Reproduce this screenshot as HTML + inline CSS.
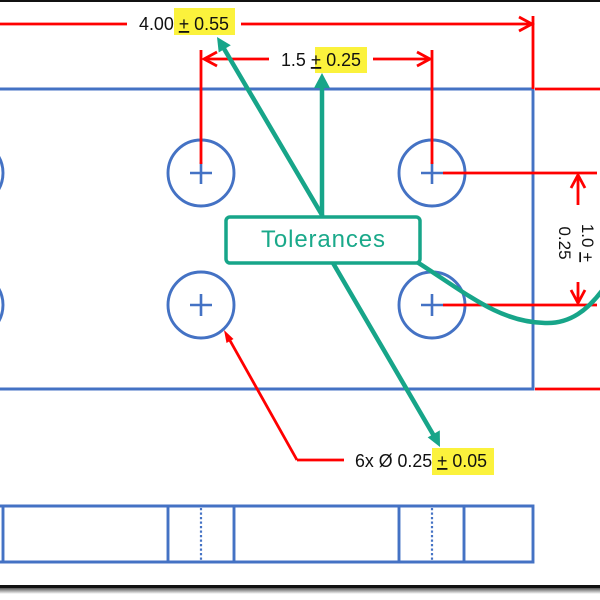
<!DOCTYPE html>
<html><head><meta charset="utf-8"><style>
html,body{margin:0;padding:0;background:#fff;}
svg{display:block;}
</style></head><body>
<svg width="600" height="600" viewBox="0 0 600 600" xmlns="http://www.w3.org/2000/svg">
<defs>
<linearGradient id="sh" x1="0" y1="0" x2="0" y2="1">
<stop offset="0" stop-color="#555"/><stop offset="1" stop-color="#fff"/>
</linearGradient>
</defs>
<rect width="600" height="600" fill="#fff"/>
<!-- frame -->
<rect x="0" y="0" width="600" height="2" fill="#111"/>
<rect x="0" y="585" width="600" height="3" fill="#111"/>
<rect x="0" y="588" width="600" height="6" fill="url(#sh)"/>

<!-- plate -->
<g fill="none" stroke="#4472c4" stroke-width="2.9">
<path d="M0,89 H533 V389 H0"/>
<circle cx="-30" cy="173" r="33"/>
<circle cx="-30" cy="305" r="33"/>
<circle cx="201" cy="173" r="33"/>
<circle cx="201" cy="305" r="33"/>
<circle cx="432" cy="173" r="33"/>
<circle cx="432" cy="305" r="33"/>
<!-- side view -->
<path d="M0,506 H533 V562 H0 M3,506 V562 M168,506 V562 M234,506 V562 M399,506 V562 M464,506 V562"/>
</g>
<g fill="none" stroke="#4472c4" stroke-width="2.6">
<path d="M190,173 H212 M201,162 V184 M190,305 H212 M201,294 V316 M421,173 H443 M432,162 V184 M421,305 H443 M432,294 V316"/>
</g>
<g stroke="#4472c4" stroke-width="2.2" stroke-dasharray="2.2,2.3" fill="none">
<path d="M201,508 V561 M432,508 V561"/>
</g>

<!-- red dimension lines -->
<g fill="none" stroke="#ff0000" stroke-width="2.8">
<path d="M0,24 H127 M241,24 H532"/>
<path d="M519,17 L532,24 L519,31"/>
<path d="M533,16 V89 M535,89 H600 M535,389 H600"/>
<path d="M201,50 V164 M432,50 V164"/>
<path d="M204,59 H269 M373,59 H430"/>
<path d="M217,52 L204,59 L217,66"/>
<path d="M417,52 L430,59 L417,66"/>
<path d="M443,173 H597 M443,305 H597"/>
<path d="M578,175 V205 M578,282 V303"/>
<path d="M571,188 L578,175 L585,188"/>
<path d="M571,290 L578,303 L585,290"/>
<path d="M297,460 L228,337 M297,460 H344"/>
</g>
<polygon points="224,330 226.5,343 233.5,339" fill="#ff0000"/>

<!-- highlights -->
<rect x="174" y="8" width="61" height="27" fill="#fbf23c"/>
<rect x="315" y="47" width="52" height="26" fill="#fbf23c"/>
<rect x="432" y="448" width="62" height="27" fill="#fbf23c"/>

<!-- dimension texts -->
<g font-family="'Liberation Sans', sans-serif" font-size="18" fill="#111">
<text x="139" y="30" textLength="90" lengthAdjust="spacingAndGlyphs">4.00 <tspan text-decoration="underline">+</tspan> 0.55</text>
<text x="281" y="66" textLength="80" lengthAdjust="spacingAndGlyphs">1.5 <tspan text-decoration="underline">+</tspan> 0.25</text>
<text x="355" y="467" textLength="132" lengthAdjust="spacingAndGlyphs">6x Ø 0.25 <tspan text-decoration="underline">+</tspan> 0.05</text>
</g>
<g font-family="'Liberation Sans', sans-serif" font-size="17" fill="#111" text-anchor="middle">
<text x="582" y="243" transform="rotate(90 582 243)"><tspan>1.0 </tspan><tspan text-decoration="underline">+</tspan></text>
<text x="559" y="243" transform="rotate(90 559 243)">0.25</text>
</g>

<!-- green callouts -->
<g stroke="#17a589" stroke-width="4.5" fill="none" stroke-linecap="round">
<path d="M322,215 L223,47"/>
<path d="M322,215 V87"/>
<path d="M333,263 L434,436"/>
<path d="M417,262 C470,296 500,322 545,323 C570,324 588,310 604,288"/>
</g>
<g fill="#17a589">
<polygon points="217,37 218.7,52.5 230.8,45.3"/>
<polygon points="322,73 314,88 330,88"/>
<polygon points="440,447 427.7,437.4 439.8,430.4"/>
</g>
<rect x="226" y="217" width="194" height="46" rx="4" fill="#fff" stroke="#17a589" stroke-width="3.5"/>
<text x="323" y="247" font-family="'Liberation Sans', sans-serif" font-size="24" fill="#1aa98a" text-anchor="middle" textLength="124">Tolerances</text>
</svg>
</body></html>
